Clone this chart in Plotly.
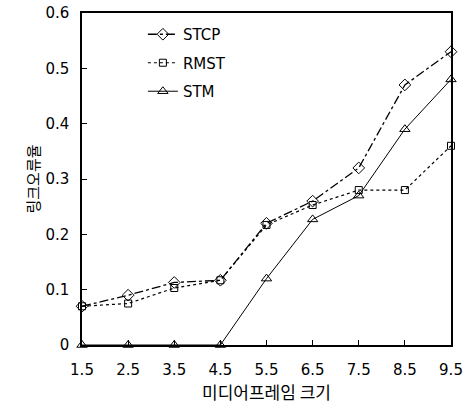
import plotly.graph_objects as go

x_vals = [1.5, 2.5, 3.5, 4.5, 5.5, 6.5, 7.5, 8.5, 9.5]
stcp = [0.07, 0.09, 0.113, 0.117, 0.22, 0.26, 0.32, 0.47, 0.53]
rmst = [0.07, 0.075, 0.103, 0.117, 0.217, 0.253, 0.28, 0.28, 0.36]
stm = [0.0, 0.0, 0.0, 0.0, 0.12, 0.227, 0.27, 0.39, 0.48]
x_ticks = [1.5, 2.5, 3.5, 4.5, 5.5, 6.5, 7.5, 8.5, 9.5]
y_ticks = [0, 0.1, 0.2, 0.3, 0.4, 0.5, 0.6]
y_tick_text = ["0", "0.1", "0.2", "0.3", "0.4", "0.5", "0.6"]

latin = "DejaVu Sans, sans-serif"
kr = "Noto Sans CJK KR, sans-serif"

fig = go.Figure()
fig.add_trace(go.Scatter(x=x_vals, y=stcp, name="STCP", mode="lines+markers", legendgroup="a",
                         cliponaxis=False,
                         line=dict(color="black", width=1.3, dash="dashdot"),
                         marker=dict(symbol="diamond-open", size=9, color="black", line=dict(width=1))))
fig.add_trace(go.Scatter(x=x_vals, y=rmst, name="RMST", mode="lines+markers", legendgroup="b",
                         cliponaxis=False,
                         line=dict(color="black", width=1.2, dash="dot"),
                         marker=dict(symbol="square-open", size=7, color="black", line=dict(width=1))))
fig.add_trace(go.Scatter(x=x_vals, y=stm, name="STM", mode="lines+markers", legendgroup="c",
                         cliponaxis=False,
                         line=dict(color="black", width=1),
                         marker=dict(symbol="triangle-up-open", size=9, color="black", line=dict(width=1))))

fig.update_layout(
    width=469, height=406,
    margin=dict(l=82, r=18, t=13, b=61),
    paper_bgcolor="white", plot_bgcolor="white",
    font=dict(family=latin, size=14, color="black"),
    showlegend=True,
    legend=dict(x=0.165, y=0.985, xanchor="left", yanchor="top",
                bgcolor="rgba(0,0,0,0)", font=dict(size=15, family=latin),
                tracegroupgap=6),
    xaxis=dict(range=[1.5, 9.5], tickvals=x_ticks, ticktext=[str(v) for v in x_ticks],
               ticks="inside", ticklen=5, tickcolor="black", automargin=False,
               showline=True, linecolor="black", linewidth=1.5, mirror=True,
               showgrid=False, zeroline=False, ticklabelstandoff=10,
               title=dict(text="미디어프레임 크기", font=dict(size=17, family=kr), standoff=4),
               tickfont=dict(size=15)),
    yaxis=dict(range=[0, 0.6], tickvals=y_ticks, ticktext=y_tick_text,
               ticks="inside", ticklen=5, tickcolor="black", automargin=False,
               showline=True, linecolor="black", linewidth=1.5, mirror=True,
               showgrid=False, zeroline=False, ticklabelstandoff=8,
               title=dict(text="링크오류율", font=dict(size=15, family=kr), standoff=2),
               tickfont=dict(size=15)),
)

fig.write_html("out.html", config={"displayModeBar": False},
               post_script="document.body.style.margin='0px';")
